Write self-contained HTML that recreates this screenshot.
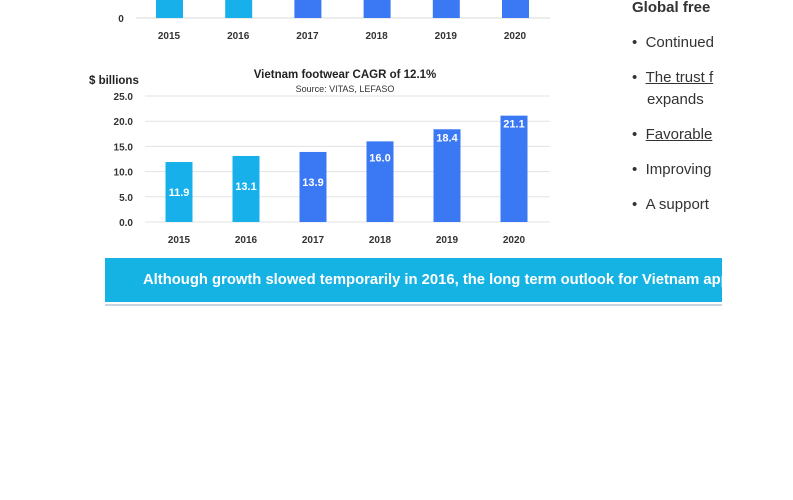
<!DOCTYPE html>
<html><head><meta charset="utf-8"><style>
body{margin:0;width:793px;height:500px;background:#fff;overflow:hidden;position:relative;font-family:"Liberation Sans",sans-serif}
.r{position:absolute;left:632px;top:0;width:90px;height:240px;overflow:hidden;color:#333;font-size:15px}
.r div{position:absolute;white-space:nowrap}
.banner{position:absolute;left:105px;top:258px;width:617px;height:44px;background:#14b3e4;overflow:hidden}
.banner span{position:absolute;left:38px;top:14px;color:#fff;font-weight:bold;font-size:14.8px;white-space:nowrap}
.uline{position:absolute;left:105px;top:304px;width:617px;height:2px;background:#c9d4e0}
</style></head><body>
<svg width="793" height="320" style="position:absolute;left:0;top:0;font-family:'Liberation Sans',sans-serif" id="svg"></svg>
<div class="r">
<div style="left:0;top:-1px;font-weight:bold">Global free</div>
<div style="left:0;top:34px">•&nbsp;&nbsp;Continued</div>
<div style="left:0;top:69px">•&nbsp;&nbsp;<u>The trust f</u></div>
<div style="left:15px;top:91px">expands</div>
<div style="left:0;top:126px">•&nbsp;&nbsp;<u>Favorable</u></div>
<div style="left:0;top:161px">•&nbsp;&nbsp;Improving</div>
<div style="left:0;top:196px">•&nbsp;&nbsp;A support</div>
</div>
<div class="banner"><span>Although growth slowed temporarily in 2016, the long term outlook for Vietnam appears</span></div>
<div class="uline"></div>
<script>
const categories=["2015","2016","2017","2018","2019","2020"];
const values=[11.9,13.1,13.9,16.0,18.4,21.1];
const labels=["11.9","13.1","13.9","16.0","18.4","21.1"];
const yTicks=[0,5,10,15,20,25];
const topCategories=["2015","2016","2017","2018","2019","2020"];
const NS="http://www.w3.org/2000/svg",svg=document.getElementById('svg');
function el(t,a,txt){const e=document.createElementNS(NS,t);for(const k in a)e.setAttribute(k,a[k]);if(txt!=null)e.textContent=txt;svg.appendChild(e);return e;}
const light="#17b0ea",dark="#3a78f4";
const tx=i=>169+i*69.2;
let g=el('line',{x1:136,x2:550,y1:18,y2:18,stroke:'#d9d9d9'});

let t=el('text',{x:121,y:22,'font-size':10,'font-weight':'bold',fill:'#333','text-anchor':'middle'},'0');

topCategories.forEach((c,i)=>{
 const b=el('rect',{x:tx(i)-13,y:0,width:27,height:18,fill:i<2?light:dark});
 
 const l=el('text',{x:tx(i),y:39,'font-size':10,'font-weight':'bold',fill:'#333','text-anchor':'middle'},c);
 
});
const y0=222,pxPer=126/25,y=v=>y0-v*pxPer,x=i=>179+i*67;
yTicks.forEach(v=>{
 const ln=el('line',{x1:145,x2:550,y1:y(v),y2:y(v),stroke:'#e3e3e3'});
 
 const tt=el('text',{x:133,y:y(v)+4,'font-size':10,'font-weight':'bold',fill:'#333','text-anchor':'end'},v.toFixed(1));
 
});
categories.forEach((c,i)=>{
 const b=el('rect',{x:x(i)-13.5,y:y(values[i]),width:27,height:y0-y(values[i]),fill:i<2?light:dark});
 
 const vl=el('text',{x:x(i),y:y(values[i])+ (i<3?34:(i<4?20:12)),'font-size':11,'font-weight':'bold',fill:'#fff','text-anchor':'middle'},labels[i]);
 
 const xl=el('text',{x:x(i),y:243,'font-size':10,'font-weight':'bold',fill:'#333','text-anchor':'middle'},c);
 
});
let a=el('text',{x:89,y:84,'font-size':11.5,'font-weight':'bold',fill:'#222'},'$ billions');

let ti=el('text',{x:345,y:78,'font-size':11.5,'font-weight':'bold',fill:'#222','text-anchor':'middle'},'Vietnam footwear CAGR of 12.1%');

let s=el('text',{x:345,y:92,'font-size':9,fill:'#333','text-anchor':'middle'},'Source:  VITAS, LEFASO');

</script>
</body></html>
